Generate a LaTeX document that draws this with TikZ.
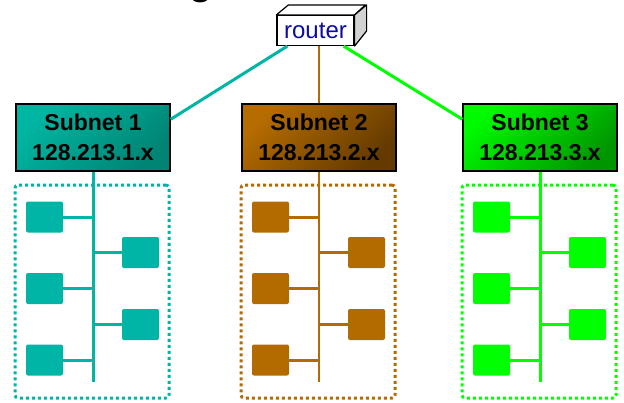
\documentclass[tikz,border=0pt]{standalone}
\usepackage{fontspec}
\setmainfont{Liberation Sans}
\definecolor{lanteal}{RGB}{0,181,165}
\definecolor{teallight}{RGB}{0,182,162}
\definecolor{tealdark}{RGB}{0,132,116}
\definecolor{lanbrown}{RGB}{179,107,0}
\definecolor{brownlight}{RGB}{182,108,0}
\definecolor{browndark}{RGB}{100,58,0}
\definecolor{langreen}{RGB}{0,255,0}
\definecolor{greenlight}{RGB}{0,250,0}
\definecolor{greendark}{RGB}{0,150,0}
\definecolor{routerblue}{RGB}{12,12,160}
\begin{document}
\begin{tikzpicture}[x=1pt,y=-1pt,
  subnet/.style={draw=black, line width=1.5pt, minimum width=154pt, minimum height=67pt,
    inner sep=0pt, align=center, font=\fontsize{23}{30}\selectfont\bfseries},
  host/.style={rounded corners=2pt, minimum width=37pt, minimum height=31pt, inner sep=0pt},
  lan/.style={draw, rounded corners=3pt, line width=3pt, dash pattern=on 3pt off 3pt,
    minimum width=154pt, minimum height=213pt},
  wire/.style={line width=3pt}]
  \useasboundingbox (0,0) rectangle (624,402);
  \clip (0,0) rectangle (624,402);
  % title, mostly cut off
  \node[anchor=base, inner sep=0pt, font=\fontsize{45}{45}\selectfont] (title) at (201,-7) {g};
  % router
  \node[draw, line width=1.2pt, fill=white, minimum width=77pt, minimum height=30pt,
    inner sep=0pt, text=routerblue, font=\fontsize{24}{24}\selectfont] (r) at (315.5,30.5) {router};
  \draw[line width=1.2pt, fill=white, line join=round] (r.north west) -- ++(12,-10) -- ++(77,0) -- (r.north east) -- cycle;
  \draw[line width=1.2pt, fill=gray!35, line join=round] (r.north east) -- ++(12,-10) -- ++(0,26) -- (r.south east) -- cycle;
  % subnets
  \node[subnet, top color=teallight, bottom color=tealdark, shading angle=45] (s1) at (93,137.5) {Subnet 1\\128.213.1.x};
  \node[subnet, top color=brownlight, bottom color=browndark, shading angle=45] (s2) at (319,137.5) {Subnet 2\\128.213.2.x};
  \node[subnet, top color=greenlight, bottom color=greendark, shading angle=45] (s3) at (540,137.5) {Subnet 3\\128.213.3.x};
  \draw[wire, draw=lanteal] ([xshift=11pt]r.south west) -- ([yshift=-16pt]s1.north east);
  \draw[line width=2.2pt, draw=lanbrown] (r.south -| s2.north) -- (s2.north);
  \draw[wire, draw=langreen] ([xshift=-11pt]r.south east) -- ([yshift=-16pt]s3.north west);

  % subnet 1
  \node[lan, draw=lanteal] (l1) at (92,291.5) {};
  \coordinate (b1) at (93,382);
  \draw[wire, draw=lanteal] (s1.south) -- (b1);
  \node[host, fill=lanteal] (h11) at (44.5,217) {};
  \node[host, fill=lanteal] (h12) at (140.5,252.5) {};
  \node[host, fill=lanteal] (h13) at (44.5,288.5) {};
  \node[host, fill=lanteal] (h14) at (140.5,324.5) {};
  \node[host, fill=lanteal] (h15) at (44.5,360) {};
  \draw[wire, draw=lanteal] (h11.east) -- (h11.east -| b1);
  \draw[wire, draw=lanteal] (h12.west) -- (h12.west -| b1);
  \draw[wire, draw=lanteal] (h13.east) -- (h13.east -| b1);
  \draw[wire, draw=lanteal] (h14.west) -- (h14.west -| b1);
  \draw[wire, draw=lanteal] (h15.east) -- (h15.east -| b1);

  % subnet 2
  \node[lan, draw=lanbrown] (l2) at (318,291.5) {};
  \coordinate (b2) at (319,382);
  \draw[line width=2.2pt, draw=lanbrown] (s2.south) -- (b2);
  \node[host, fill=lanbrown] (h21) at (270.5,217) {};
  \node[host, fill=lanbrown] (h22) at (366.5,252.5) {};
  \node[host, fill=lanbrown] (h23) at (270.5,288.5) {};
  \node[host, fill=lanbrown] (h24) at (366.5,324.5) {};
  \node[host, fill=lanbrown] (h25) at (270.5,360) {};
  \draw[wire, draw=lanbrown] (h21.east) -- (h21.east -| b2);
  \draw[wire, draw=lanbrown] (h22.west) -- (h22.west -| b2);
  \draw[wire, draw=lanbrown] (h23.east) -- (h23.east -| b2);
  \draw[wire, draw=lanbrown] (h24.west) -- (h24.west -| b2);
  \draw[wire, draw=lanbrown] (h25.east) -- (h25.east -| b2);

  % subnet 3
  \node[lan, draw=langreen] (l3) at (539,291.5) {};
  \coordinate (b3) at (540,382);
  \draw[wire, draw=langreen] (s3.south) -- (b3);
  \node[host, fill=langreen] (h31) at (491.5,217) {};
  \node[host, fill=langreen] (h32) at (587.5,252.5) {};
  \node[host, fill=langreen] (h33) at (491.5,288.5) {};
  \node[host, fill=langreen] (h34) at (587.5,324.5) {};
  \node[host, fill=langreen] (h35) at (491.5,360) {};
  \draw[wire, draw=langreen] (h31.east) -- (h31.east -| b3);
  \draw[wire, draw=langreen] (h32.west) -- (h32.west -| b3);
  \draw[wire, draw=langreen] (h33.east) -- (h33.east -| b3);
  \draw[wire, draw=langreen] (h34.west) -- (h34.west -| b3);
  \draw[wire, draw=langreen] (h35.east) -- (h35.east -| b3);
\end{tikzpicture}
\end{document}
